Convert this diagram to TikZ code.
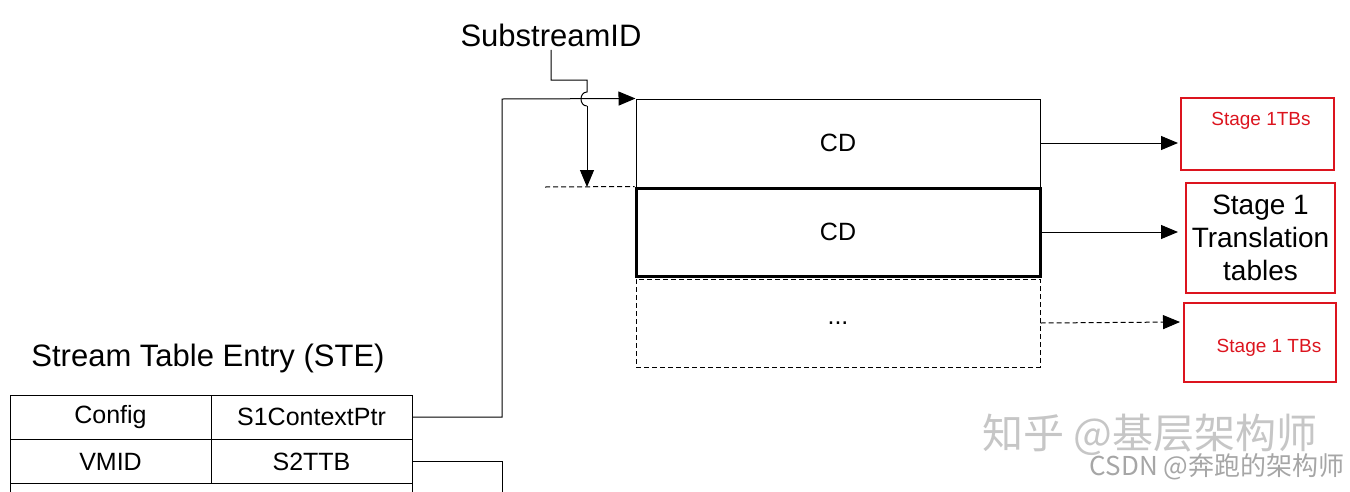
\documentclass[tikz,border=0pt]{standalone}
\usepackage{fontspec}
\setmainfont{Liberation Sans}
\newfontfamily\cjk{Noto Sans CJK SC}
\usetikzlibrary{arrows.meta}
\definecolor{rd}{RGB}{220,20,30}
\begin{document}
\begin{tikzpicture}[x=1pt,y=-1pt,
  ln/.style={line width=1pt},
  dsh/.style={dash pattern=on 5pt off 3pt},
  arr/.style={ln,-{Triangle[length=17pt,width=14pt]}},
  cell/.style={draw,ln,minimum width=201pt,minimum height=44pt,inner sep=0pt,font=\fontsize{25}{29}\selectfont},
  rbox/.style={draw=rd,line width=2pt,inner sep=0pt},
  cd/.style={draw,inner sep=0pt,font=\fontsize{25}{29}\selectfont}]
\useasboundingbox (0,0) rectangle (1350,491);
\node (sid) at (551,35) {\fontsize{31}{36}\selectfont SubstreamID};
\node (ste) at (208,358) {\fontsize{31}{36}\selectfont Stream Table Entry (STE)};
% table
\node[cell] (cfg) at (110.5,417) {Config};
\node[cell] (s1) at (311.5,417) {S1ContextPtr};
\node[cell] (vmid) at (110.5,461.5) {VMID};
\node[cell] (s2) at (311.5,461.5) {S2TTB};
\draw[ln] (10,484) -- (10,495) (412,484) -- (412,495);
% CD boxes
\node[cd,ln,minimum width=404pt,minimum height=88pt] (cd1) at (838,143) {CD};
\node[cd,line width=3pt,minimum width=404pt,minimum height=88pt] (cd2) at (838,232) {CD};
\node[cd,ln,dsh,minimum width=404pt,minimum height=88pt] (cd3) at (838,323) {...};
% red boxes
\node[rbox,minimum width=153pt,minimum height=72pt] (r1) at (1257.5,134) {};
\node[text=rd,font=\fontsize{19}{22}\selectfont] at (1261,121) {Stage 1TBs};
\node[rbox,minimum width=149pt,minimum height=110pt,align=center,font=\fontsize{28}{33}\selectfont] (r2) at (1260.5,238) {Stage 1\\Translation\\tables};
\node[rbox,minimum width=152pt,minimum height=79pt] (r3) at (1260,342.5) {};
\node[text=rd,font=\fontsize{19}{22}\selectfont] at (1269,348) {Stage 1 TBs};
% connectors
\coordinate (c1) at (cd1.north west);
\draw[arr] (s1.east) -- (502,417) -- (502,99) -- (c1);
\draw[ln] (s2.east) -- (502,461.5) -- (502,495);
\draw[ln] (sid.south) -- (551,80) -- (587,80) -- (587,92) .. controls (579,92) and (579,106) .. (587,106);
\coordinate (hb) at (587,106);
\coordinate (tgt) at (587,187);
\draw[arr] (hb) -- (tgt);
\coordinate (dl) at (545,187);
\draw[ln,dsh] (dl) -- (cd2.north west);
\draw[arr] (cd1.east) -- (1178,143);
\draw[arr] (cd2.east) -- (1178,232);
\draw[arr,dsh] (cd3.east) -- (1180,322);
% watermarks
\node[text=gray!45,font=\cjk\fontsize{41}{46}\selectfont] at (1150,435) {知乎 @基层架构师};
\node[text=gray!70,font=\cjk\fontsize{26}{30}\selectfont] at (1217,467) {CSDN @奔跑的架构师};
\end{tikzpicture}
\end{document}
